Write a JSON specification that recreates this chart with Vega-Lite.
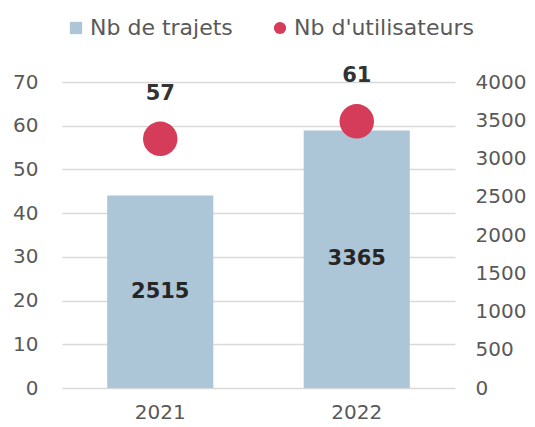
{
  "$schema": "https://vega.github.io/schema/vega-lite/v6.json",
  "width": 393,
  "height": 306,
  "autosize": "none",
  "padding": {"left": 62, "top": 82, "right": 80, "bottom": 39},
  "background": "white",
  "config": {
    "font": "DejaVu Sans",
    "view": {"stroke": null},
    "axis": {"labelFont": "DejaVu Sans", "labelColor": "#595959", "labelFontSize": 20, "domain": false, "ticks": false, "title": null}
  },
  "data": {"values": [
    {"year": "2021", "trajets": 2515, "utilisateurs": 57},
    {"year": "2022", "trajets": 3365, "utilisateurs": 61}
  ]},
  "encoding": {
    "x": {"field": "year", "type": "nominal", "scale": {"paddingInner": 0.46, "paddingOuter": 0.23},
      "axis": {"labelAngle": 0, "labelPadding": 14, "grid": false}}
  },
  "layer": [
    {
      "mark": {"type": "bar", "color": "#ADC6D7"},
      "encoding": {
        "y": {"field": "trajets", "type": "quantitative", "scale": {"domain": [0, 4000], "nice": false},
          "axis": {"orient": "right", "format": "d", "values": [0, 500, 1000, 1500, 2000, 2500, 3000, 3500, 4000], "grid": false, "labelPadding": 20}},
        "color": {"datum": "Nb de trajets", "type": "nominal",
          "scale": {"domain": ["Nb de trajets", "Nb d'utilisateurs"], "range": ["#ADC6D7", "#D43C5A"]},
          "legend": {"title": null, "orient": "none", "legendX": 3, "legendY": -65, "direction": "horizontal",
            "labelFont": "DejaVu Sans", "labelFontSize": 22, "labelColor": "#595959", "symbolSize": 150,
            "labelLimit": 400, "columnPadding": 36, "labelOffset": 3, "symbolStrokeWidth": 0,
            "encode": {"symbols": {"update": {"shape": {"signal": "datum.value === 'Nb de trajets' ? 'square' : 'circle'"}}}}}}
      }
    },
    {
      "mark": {"type": "text", "fontWeight": "bold", "fontSize": 21, "color": "#262626", "baseline": "middle"},
      "encoding": {
        "y": {"field": "trajets", "type": "quantitative", "scale": {"domain": [0, 8000], "nice": false}, "axis": null},
        "text": {"field": "trajets", "type": "quantitative"}
      }
    },
    {
      "mark": {"type": "point", "filled": true, "size": 1190, "opacity": 1, "shape": "circle"},
      "encoding": {
        "y": {"field": "utilisateurs", "type": "quantitative", "scale": {"domain": [0, 70], "nice": false},
          "axis": {"orient": "left", "values": [0, 10, 20, 30, 40, 50, 60, 70], "grid": true, "gridColor": "#D9D9D9", "gridWidth": 1.5, "labelPadding": 24}},
        "color": {"datum": "Nb d'utilisateurs", "type": "nominal"}
      }
    },
    {
      "mark": {"type": "text", "fontWeight": "bold", "fontSize": 21, "color": "#333333", "baseline": "middle", "dy": -45},
      "encoding": {
        "y": {"field": "utilisateurs", "type": "quantitative", "scale": {"domain": [0, 70], "nice": false}, "axis": null},
        "text": {"field": "utilisateurs", "type": "quantitative"}
      }
    }
  ],
  "resolve": {"scale": {"y": "independent"}}
}
